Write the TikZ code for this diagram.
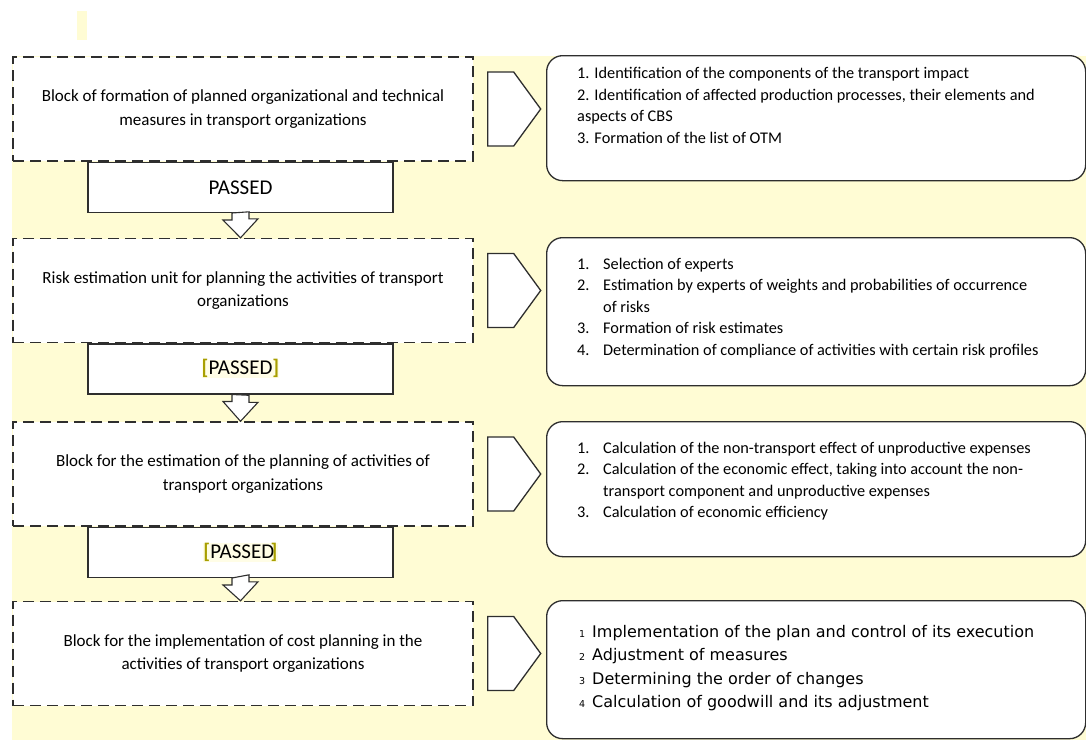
\documentclass[tikz,border=0pt]{standalone}
\usepackage{fontspec}
\setmainfont{Carlito}
\newfontfamily\cpsans{DejaVu Sans}
\usetikzlibrary{calc}
\definecolor{cpYellow}{HTML}{FFFCD4}
\definecolor{cpOlive}{HTML}{A89F00}
\definecolor{cpMark}{HTML}{FFFDE6}
\definecolor{cpLine}{HTML}{2E2E2E}
\newcommand{\cpmarked}[1]{{\setlength{\fboxsep}{0pt}\colorbox{cpMark}{\textcolor{cpOlive}{\textbf{[}}#1}}}
\tikzset{
  cp block/.style={draw=cpLine, dash pattern=on 11pt off 6pt, line width=1.4pt, fill=white, minimum width=460pt, minimum height=104pt, align=center, inner sep=0pt, font=\fontsize{17}{23.5}\selectfont},
  cp passed/.style={draw=cpLine, line width=1.3pt, fill=white, minimum width=305pt, minimum height=50pt, inner sep=0pt, font=\fontsize{21}{24}\selectfont},
  cp list/.style={draw=cpLine, line width=1.3pt, fill=white, rounded corners=16pt, minimum width=539pt, anchor=north west, inner sep=0pt},
  cp chevron/.style={draw=cpLine, line width=1.3pt, fill=white},
  cp down/.style={draw=cpLine, line width=1.1pt, fill=white},
  cp items/.style={anchor=north west, inner sep=0pt, align=left, font=\fontsize{16.3}{21.5}\selectfont},
}

\begin{document}
\begin{tikzpicture}[x=1pt,y=-1pt]
  \useasboundingbox (0,0) rectangle (1086,740);
  % background and marker
  \fill[cpYellow] (12,56) rectangle (1086,740);
  \fill[cpYellow] (77,11) rectangle (87,40);
  % blocks of the left column
  \node[cp block] (b1) at (243,109) {Block of formation of planned organizational and technical\\ measures in transport organizations};
  \node[cp block] (b2) at (243,290.5) {Risk estimation unit for planning the activities of transport\\ organizations};
  \node[cp block] (b3) at (243,474) {Block for the estimation of the planning of activities of\\ transport organizations};
  \node[cp block] (b4) at (243,653.5) {Block for the implementation of cost planning in the\\ activities of transport organizations};
  % passed gates
  \node[cp passed, anchor=north] (p1) at ([xshift=-2.5pt]b1.south) {PASSED};
  \node[cp passed, anchor=north] (p2) at ([xshift=-2.5pt]b2.south) {\cpmarked{PASSED\textcolor{cpOlive}{\textbf{]}}}};
  \node[cp passed, anchor=north] (p3) at ([xshift=-2.5pt]b3.south) {\cpmarked{PASSED\kern-3.5pt\textcolor{cpOlive}{\textbf{]}}}};
  \foreach \p/\b in {p1/b2,p2/b3,p3/b4}
    \draw[cp down] ([xshift=-8.5pt]\p.south) -- ++(0,7) -- ++(-9,0) -- (\p.south |- \b.north) -- ++(17.5,-19) -- ++(-9,0) -- ++(0,-7) -- cycle;
  % chevrons to the lists
  \foreach \i in {1,...,4}
    \draw[cp chevron] ([xshift=14pt,yshift=37pt]b\i.east) -- ++(26,0) -- ++(27,37) -- ++(-27,37) -- ++(-26,0) -- cycle;
  % lists on the right
  \node[cp list, minimum height=125pt] (r1) at (546,55) {};
  \node[cp list, minimum height=148pt] (r2) at (546,237) {};
  \node[cp list, minimum height=135pt] (r3) at (546,421) {};
  \node[cp list, minimum height=138pt] (r4) at (546,600) {};
  \node[cp items] (l1) at ([xshift=31pt,yshift=-12pt]r1.north west) {%
    1. Identification of the components of the transport impact\\
    2. Identification of affected production processes, their elements and\\
    aspects of CBS\\
    3. Formation of the list of OTM};
  \node[cp items] (l2) at ([xshift=31pt,yshift=-17pt]r2.north west) {%
    \begin{tabular}{@{}p{26pt}@{}l@{}}
    1. & Selection of experts\\
    2. & Estimation by experts of weights and probabilities of occurrence\\
       & of risks\\
    3. & Formation of risk estimates\\
    4. & Determination of compliance of activities with certain risk profiles
    \end{tabular}};
  \node[cp items] (l3) at ([xshift=31pt,yshift=-17pt]r3.north west) {%
    \begin{tabular}{@{}p{26pt}@{}l@{}}
    1. & Calculation of the non-transport effect of unproductive expenses\\
    2. & Calculation of the economic effect, taking into account the non-\\
       & transport component and unproductive expenses\\
    3. & Calculation of economic efficiency
    \end{tabular}};
  \node[cp items, font=\cpsans\fontsize{16}{23.3}\selectfont] (l4) at ([xshift=33pt,yshift=-21pt]r4.north west) {%
    \begin{tabular}{@{}p{13pt}@{}l@{}}
    {\fontsize{9.5}{9.5}\selectfont 1} & Implementation of the plan and control of its execution\\
    {\fontsize{9.5}{9.5}\selectfont 2} & Adjustment of measures\\
    {\fontsize{9.5}{9.5}\selectfont 3} & Determining the order of changes\\
    {\fontsize{9.5}{9.5}\selectfont 4} & Calculation of goodwill and its adjustment
    \end{tabular}};
\end{tikzpicture}
\end{document}
